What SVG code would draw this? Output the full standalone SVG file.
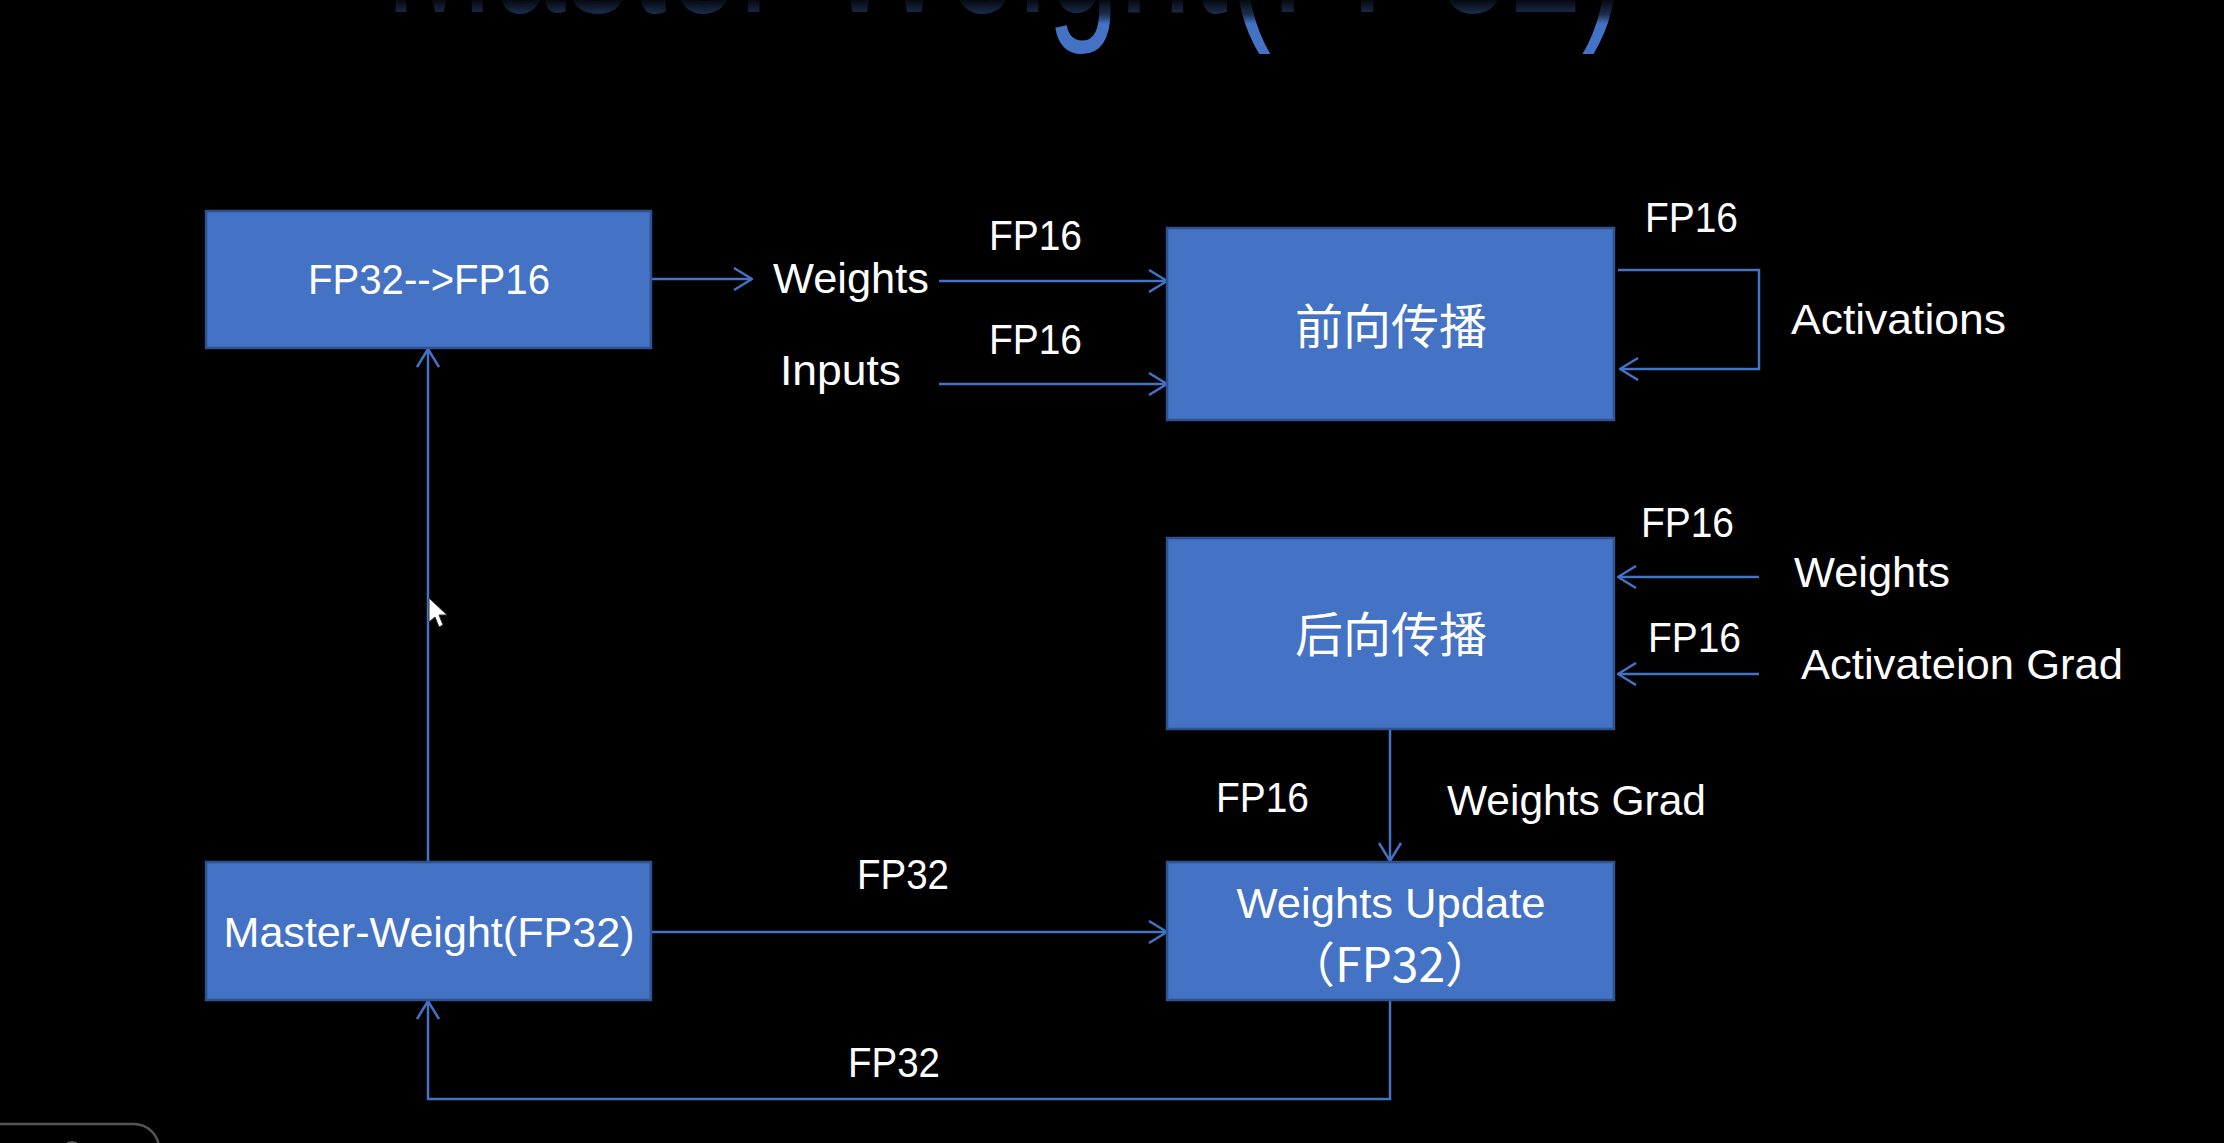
<svg xmlns="http://www.w3.org/2000/svg" width="2224" height="1143" viewBox="0 0 2224 1143">
  <style>
    .box { fill: #4472C4; stroke: #2F528F; stroke-width: 2.5; }
    .lbl { font-family: "Liberation Sans", Arial, sans-serif; font-size: 42px; fill: #FFFFFF; }
    .cjk { font-family: "Noto Sans CJK SC", "Noto Sans", sans-serif; font-size: 48px; fill: #FFFFFF; }
    .conn { fill: none; stroke: #4472C4; stroke-width: 2.5; }
    .title { font-family: "Liberation Sans", Arial, sans-serif; font-size: 200px; fill: #4472C4; }
  </style>
  <defs>
    <marker id="arr" viewBox="0 0 20 24" refX="19" refY="12" markerWidth="20" markerHeight="24" markerUnits="userSpaceOnUse" orient="auto">
      <path d="M1,1 L19,12 L1,23" fill="none" stroke="#4472C4" stroke-width="2.5"/>
    </marker>
    <linearGradient id="topfade" x1="0" y1="0" x2="0" y2="1">
      <stop offset="0" stop-color="#000000" stop-opacity="0.92"/>
      <stop offset="0.6" stop-color="#000000" stop-opacity="0.6"/>
      <stop offset="1" stop-color="#000000" stop-opacity="0"/>
    </linearGradient>
  </defs>
  <rect x="0" y="0" width="2224" height="1143" fill="#000000"/>

  <text class="title" x="385" y="12" textLength="1240" lengthAdjust="spacingAndGlyphs">Master-Weight(FP32)</text>
  <rect x="0" y="0" width="2224" height="24" fill="url(#topfade)"/>

  <g id="connectors">
    <path class="conn" d="M651,279 H752" marker-end="url(#arr)"/>
    <path class="conn" d="M939,281 H1167" marker-end="url(#arr)"/>
    <path class="conn" d="M939,384 H1167" marker-end="url(#arr)"/>
    <path class="conn" d="M1618,270 H1759 V369 H1620" marker-end="url(#arr)"/>
    <path class="conn" d="M1759,577 H1618" marker-end="url(#arr)"/>
    <path class="conn" d="M1759,674 H1618" marker-end="url(#arr)"/>
    <path class="conn" d="M1390,729 V861" marker-end="url(#arr)"/>
    <path class="conn" d="M651,932 H1167" marker-end="url(#arr)"/>
    <path class="conn" d="M1390,1000 V1099 H428 V1001" marker-end="url(#arr)"/>
    <path class="conn" d="M428,862 V349" marker-end="url(#arr)"/>
  </g>

  <g id="labels">
    <text class="lbl" x="773" y="293" textLength="156" lengthAdjust="spacingAndGlyphs">Weights</text>
    <text class="lbl" x="989" y="250" textLength="93" lengthAdjust="spacingAndGlyphs">FP16</text>
    <text class="lbl" x="780" y="385" textLength="121" lengthAdjust="spacingAndGlyphs">Inputs</text>
    <text class="lbl" x="989" y="354" textLength="93" lengthAdjust="spacingAndGlyphs">FP16</text>
    <text class="lbl" x="1645" y="232" textLength="93" lengthAdjust="spacingAndGlyphs">FP16</text>
    <text class="lbl" x="1791" y="334" textLength="215" lengthAdjust="spacingAndGlyphs">Activations</text>
    <text class="lbl" x="1641" y="537" textLength="93" lengthAdjust="spacingAndGlyphs">FP16</text>
    <text class="lbl" x="1794" y="587" textLength="156" lengthAdjust="spacingAndGlyphs">Weights</text>
    <text class="lbl" x="1648" y="652" textLength="93" lengthAdjust="spacingAndGlyphs">FP16</text>
    <text class="lbl" x="1801" y="679" textLength="322" lengthAdjust="spacingAndGlyphs">Activateion Grad</text>
    <text class="lbl" x="1216" y="812" textLength="93" lengthAdjust="spacingAndGlyphs">FP16</text>
    <text class="lbl" x="1447" y="815" textLength="259" lengthAdjust="spacingAndGlyphs">Weights Grad</text>
    <text class="lbl" x="857" y="889" textLength="92" lengthAdjust="spacingAndGlyphs">FP32</text>
    <text class="lbl" x="848" y="1077" textLength="92" lengthAdjust="spacingAndGlyphs">FP32</text>
  </g>

  <g id="node-fp32-fp16">
    <rect class="box" x="206" y="211" width="445" height="137"/>
    <text class="lbl" x="429" y="294" text-anchor="middle" textLength="242" lengthAdjust="spacingAndGlyphs">FP32--&gt;FP16</text>
  </g>
  <g id="node-forward">
    <rect class="box" x="1167" y="228" width="447" height="192"/>
    <text class="cjk" x="1391" y="344" text-anchor="middle">前向传播</text>
  </g>
  <g id="node-backward">
    <rect class="box" x="1167" y="538" width="447" height="191"/>
    <text class="cjk" x="1391" y="652" text-anchor="middle">后向传播</text>
  </g>
  <g id="node-update">
    <rect class="box" x="1167" y="862" width="447" height="138"/>
    <text class="lbl" x="1391" y="918" text-anchor="middle" textLength="309" lengthAdjust="spacingAndGlyphs">Weights Update</text>
    <text class="cjk" x="1390" y="982" text-anchor="middle" font-size="44">（FP32）</text>
  </g>
  <g id="node-master">
    <rect class="box" x="206" y="862" width="445" height="138"/>
    <text class="lbl" x="429" y="947" text-anchor="middle" textLength="411" lengthAdjust="spacingAndGlyphs">Master-Weight(FP32)</text>
  </g>

  <polygon points="429,598 429,622 435,617 439,627 443,625 439,615 447,615" fill="#FFFFFF" stroke="#333333" stroke-width="1"/>
  <path d="M0,1124 H134 A25,25 0 0 1 159,1149" fill="none" stroke="#555555" stroke-width="2.5"/>
  <circle cx="72" cy="1151" r="9" fill="none" stroke="#555555" stroke-width="2"/>
</svg>
